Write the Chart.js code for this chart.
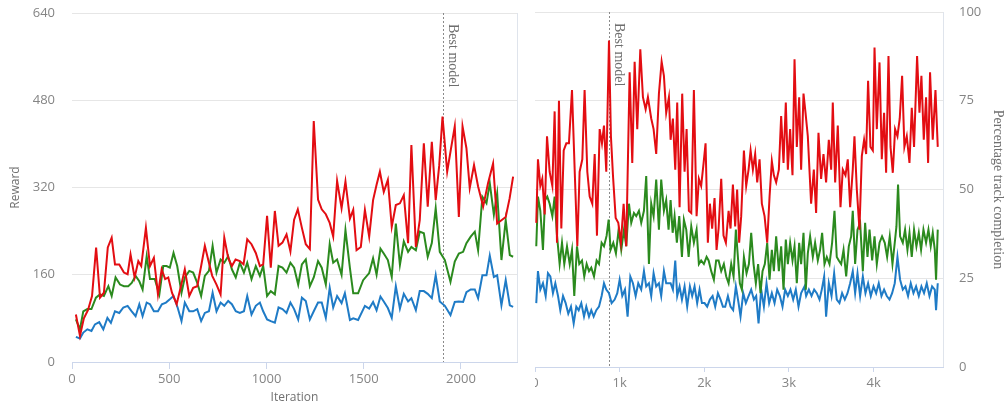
<!DOCTYPE html>
<html>
<head>
<meta charset="utf-8">
<script src="https://cdn.jsdelivr.net/npm/chart.js@4.4.1/dist/chart.umd.min.js"></script>
<style>
  html, body { margin: 0; padding: 0; background: #ffffff; width: 1007px; height: 406px; overflow: hidden; }
  #rewardWrap { position: absolute; left: 0; top: 0; width: 525px; height: 406px; }
  #trackWrap { position: absolute; left: 535px; top: 0; width: 472px; height: 406px; overflow: hidden; }
  canvas { display: block; }
</style>
</head>
<body>
<div id="rewardWrap"><canvas id="rewardChart" width="525" height="406"></canvas></div>
<div id="trackWrap"><canvas id="trackChart" width="472" height="406"></canvas></div>
<script>
// ---- Reward per iteration (left panel) ----
const rewardTicks = [0, 160, 320, 480, 640];
const iterationTicks = [0, 500, 1000, 1500, 2000];
const rewardBestIteration = 1906;

const redIter = [20, 41, 61, 82, 103, 124, 144, 164, 184, 204, 221, 243, 267, 286, 301, 322, 341, 356, 380, 401, 421, 442, 461, 479, 495, 514, 538, 560, 580, 603, 623, 644, 664, 683, 704, 721, 743, 764, 783, 803, 822, 841, 863, 882, 901, 923, 945, 966, 983, 1003, 1022, 1043, 1062, 1082, 1103, 1123, 1142, 1161, 1182, 1202, 1223, 1243, 1265, 1284, 1305, 1325, 1343, 1363, 1386, 1406, 1429, 1446, 1463, 1485, 1506, 1528, 1548, 1566, 1583, 1603, 1624, 1644, 1665, 1686, 1706, 1728, 1745, 1768, 1788, 1809, 1829, 1850, 1870, 1888, 1905, 1929, 1948, 1968, 1989, 2008, 2028, 2045, 2067, 2088, 2114, 2139, 2165, 2186, 2208, 2230, 2250, 2268];
const redReward = [87, 48, 80, 95, 121, 210, 118, 127, 210, 228, 179, 179, 164, 161, 197, 155, 185, 176, 246, 176, 191, 124, 170, 152, 155, 127, 106, 139, 170, 121, 136, 139, 176, 213, 182, 158, 142, 124, 228, 191, 176, 188, 185, 179, 225, 216, 200, 176, 179, 268, 173, 277, 213, 219, 234, 203, 261, 280, 246, 216, 207, 442, 298, 280, 271, 255, 230, 332, 282, 331, 263, 279, 205, 211, 279, 230, 297, 325, 349, 312, 334, 248, 288, 291, 306, 218, 398, 211, 260, 401, 285, 404, 297, 360, 450, 349, 390, 432, 266, 432, 392, 319, 361, 322, 285, 328, 364, 254, 260, 266, 300, 340];

const greenIter = [20, 41, 58, 79, 100, 123, 144, 164, 187, 204, 224, 247, 267, 289, 307, 327, 346, 363, 384, 401, 426, 449, 469, 486, 503, 522, 541, 563, 580, 603, 623, 644, 664, 683, 704, 723, 743, 764, 783, 803, 822, 842, 863, 884, 901, 923, 945, 966, 983, 1003, 1022, 1043, 1062, 1082, 1103, 1123, 1142, 1163, 1182, 1202, 1223, 1243, 1265, 1284, 1305, 1325, 1343, 1363, 1386, 1406, 1429, 1446, 1471, 1497, 1528, 1548, 1566, 1586, 1603, 1624, 1644, 1665, 1686, 1706, 1728, 1745, 1768, 1788, 1809, 1829, 1850, 1870, 1891, 1917, 1946, 1968, 1989, 2011, 2028, 2050, 2071, 2088, 2110, 2131, 2148, 2169, 2186, 2208, 2230, 2251, 2268];
const greenReward = [78, 60, 93, 97, 97, 118, 124, 121, 139, 121, 155, 142, 139, 139, 145, 158, 148, 133, 194, 152, 152, 124, 176, 176, 173, 200, 176, 127, 155, 167, 164, 145, 121, 158, 167, 213, 164, 188, 182, 194, 170, 155, 182, 164, 182, 152, 176, 158, 176, 121, 130, 124, 176, 173, 164, 182, 173, 142, 179, 188, 139, 155, 185, 173, 142, 216, 182, 188, 160, 242, 172, 126, 126, 150, 163, 190, 160, 208, 199, 187, 156, 254, 178, 221, 202, 211, 205, 239, 236, 193, 218, 282, 202, 187, 147, 184, 199, 202, 218, 230, 239, 205, 303, 291, 328, 270, 309, 187, 260, 196, 193];

const blueIter = [20, 41, 58, 79, 100, 118, 140, 161, 182, 200, 221, 243, 264, 286, 307, 327, 346, 363, 384, 401, 421, 442, 462, 483, 503, 522, 543, 563, 580, 603, 623, 644, 664, 683, 704, 723, 743, 764, 783, 803, 822, 842, 863, 884, 901, 923, 945, 966, 983, 1003, 1022, 1043, 1062, 1082, 1103, 1123, 1142, 1163, 1182, 1202, 1223, 1243, 1265, 1284, 1305, 1325, 1343, 1363, 1386, 1403, 1429, 1446, 1471, 1506, 1528, 1548, 1566, 1586, 1603, 1624, 1644, 1665, 1686, 1706, 1728, 1745, 1768, 1788, 1809, 1829, 1850, 1870, 1891, 1917, 1946, 1968, 1989, 2011, 2028, 2050, 2071, 2088, 2110, 2131, 2148, 2169, 2186, 2208, 2230, 2251, 2268];
const blueReward = [46, 43, 54, 60, 57, 69, 73, 60, 81, 72, 93, 90, 100, 103, 93, 84, 106, 84, 109, 106, 93, 93, 106, 109, 115, 121, 100, 75, 109, 93, 93, 97, 75, 90, 93, 127, 93, 109, 103, 112, 106, 93, 90, 93, 121, 87, 103, 109, 93, 78, 75, 72, 100, 97, 90, 109, 97, 78, 118, 112, 78, 93, 109, 109, 81, 136, 100, 121, 108, 126, 77, 80, 77, 103, 98, 110, 95, 120, 111, 99, 81, 139, 98, 125, 111, 117, 95, 130, 130, 125, 117, 159, 111, 103, 86, 110, 111, 110, 128, 133, 133, 117, 159, 159, 195, 156, 159, 104, 150, 104, 101];

// ---- Percentage track completion (right panel) ----
const completionTicks = [0, 25, 50, 75, 100];
const stepTicks = [0, 1000, 2000, 3000, 4000];
const completionBestStep = 877;

const redStep = [15, 35, 63, 86, 114, 142, 173, 205, 232, 260, 283, 311, 339, 370, 401, 437, 468, 500, 527, 559, 586, 618, 646, 677, 705, 732, 764, 791, 815, 842, 874, 897, 921, 953, 984, 1015, 1047, 1078, 1118, 1149, 1177, 1208, 1244, 1275, 1307, 1334, 1373, 1401, 1432, 1464, 1496, 1523, 1550, 1582, 1602, 1629, 1657, 1680, 1708, 1739, 1767, 1791, 1818, 1846, 1877, 1909, 1936, 1963, 1992, 2015, 2042, 2066, 2093, 2121, 2145, 2169, 2200, 2227, 2255, 2287, 2310, 2338, 2365, 2388, 2412, 2436, 2468, 2495, 2523, 2547, 2574, 2601, 2625, 2653, 2680, 2712, 2743, 2771, 2798, 2822, 2849, 2881, 2908, 2936, 2963, 2987, 3014, 3042, 3066, 3093, 3121, 3144, 3172, 3196, 3223, 3262, 3294, 3321, 3349, 3380, 3408, 3439, 3471, 3499, 3518, 3546, 3577, 3609, 3636, 3668, 3695, 3723, 3754, 3774, 3802, 3833, 3861, 3888, 3912, 3935, 3963, 3991, 4011, 4038, 4070, 4097, 4124, 4148, 4176, 4200, 4227, 4254, 4282, 4309, 4337, 4364, 4392, 4424, 4451, 4478, 4514, 4542, 4565, 4593, 4620, 4644, 4667, 4699, 4731, 4758];
const redCompletion = [40.6, 58.5, 51, 53, 43, 65, 55, 51, 72, 35, 75, 39, 61, 63, 63, 78, 56, 34, 55, 58.5, 78, 55, 48, 46, 60, 37, 67, 63, 68, 55, 92, 65, 54, 42, 40.6, 35, 46, 34, 83, 57.5, 86, 67, 89.5, 76, 72.6, 76, 70, 67, 60, 77, 86, 82, 71.6, 76, 64, 70, 55.6, 74.5, 45, 77, 55, 67, 44, 43.4, 78, 42.5, 53, 51, 57.5, 63, 35, 46, 39, 47.6, 33, 39, 53, 37, 35, 44, 39, 51.4, 39.6, 50, 35, 42.5, 61, 51, 55.6, 61, 55.6, 60, 52, 58.5, 46, 42.5, 35, 48, 58, 54, 52, 55.6, 70.7, 57.5, 74.5, 55.6, 67, 54, 86.7, 62, 76, 55.6, 77, 71.6, 65, 46, 55.6, 43.4, 66, 53, 60, 52, 64, 55.6, 74.5, 52, 68, 45, 55.6, 54, 58.5, 45, 55.6, 65, 50, 38.7, 59.4, 64, 60, 80.6, 62, 61, 90, 67, 85.8, 58.5, 71.6, 54.7, 87.6, 62, 54.7, 67, 65, 70, 82, 62, 65, 57.5, 73, 62, 87.6, 71.6, 82, 64, 76, 57.5, 83, 64, 78, 62];

const greenStep = [15, 35, 63, 94, 118, 145, 173, 205, 232, 260, 291, 319, 346, 378, 410, 437, 464, 496, 523, 555, 582, 610, 638, 665, 697, 728, 756, 787, 815, 846, 870, 893, 925, 956, 988, 1019, 1051, 1078, 1110, 1137, 1169, 1196, 1228, 1255, 1287, 1314, 1346, 1373, 1401, 1432, 1464, 1491, 1523, 1550, 1578, 1602, 1626, 1649, 1676, 1704, 1736, 1759, 1787, 1815, 1846, 1877, 1909, 1936, 1963, 1995, 2027, 2051, 2082, 2113, 2140, 2169, 2200, 2231, 2259, 2287, 2318, 2346, 2373, 2397, 2420, 2444, 2468, 2499, 2527, 2554, 2582, 2609, 2636, 2664, 2688, 2715, 2743, 2771, 2798, 2822, 2849, 2881, 2908, 2936, 2963, 2987, 3014, 3042, 3066, 3093, 3121, 3144, 3172, 3199, 3223, 3250, 3282, 3309, 3341, 3368, 3392, 3420, 3447, 3479, 3510, 3538, 3565, 3589, 3617, 3645, 3676, 3707, 3735, 3754, 3782, 3810, 3841, 3873, 3900, 3928, 3952, 3983, 4011, 4038, 4070, 4100, 4132, 4160, 4191, 4223, 4250, 4270, 4289, 4313, 4345, 4372, 4400, 4424, 4451, 4478, 4506, 4534, 4561, 4589, 4620, 4648, 4675, 4699, 4723, 4738, 4758];
const greenCompletion = [34, 48, 44, 33, 47, 48, 46, 42.5, 48, 37, 29, 35, 29, 34, 29, 33, 20, 34, 29, 30, 25.5, 29, 27, 28, 25.5, 30, 29, 35, 34, 37, 41.5, 33, 35, 32, 38.7, 33, 38.7, 34, 46, 40.6, 43.4, 42.5, 44, 40.6, 44, 53.8, 29, 46, 42.5, 52.8, 38.7, 52.8, 44, 47, 38.7, 47, 37.8, 42.5, 35, 42.5, 31, 41.5, 38.7, 31, 39.6, 35, 38.7, 29, 30, 29, 31, 30, 27, 24.6, 30, 30, 27, 29, 25.5, 23.6, 29, 25.5, 38.7, 31, 23.6, 21.8, 31, 26.4, 29, 37.8, 29, 23.6, 29, 20.8, 27, 29, 35, 24.6, 33, 27, 36.8, 27, 34, 21.8, 35.9, 29, 35, 30, 34, 23.6, 35, 29, 37.8, 21.8, 32, 36.8, 31, 35, 30, 33, 37.8, 29, 31, 29, 35, 44, 31, 30, 29, 33, 25.5, 34, 36.8, 44, 29, 38.7, 40.6, 27, 40.6, 31, 38.7, 30, 36.8, 29, 35, 36.8, 35, 31, 36.8, 29, 35, 39.6, 51.4, 36.8, 35, 38.7, 33, 37.8, 31, 38.7, 34, 37.8, 33, 38.7, 35, 38.7, 34, 37.8, 33, 24.6, 38.7];

const blueStep = [15, 35, 63, 94, 126, 153, 181, 212, 240, 272, 299, 331, 362, 393, 425, 457, 488, 516, 547, 579, 606, 638, 665, 693, 724, 756, 787, 815, 842, 874, 905, 941, 972, 1000, 1031, 1063, 1094, 1126, 1157, 1189, 1220, 1255, 1287, 1314, 1346, 1373, 1401, 1432, 1464, 1491, 1523, 1550, 1602, 1629, 1657, 1680, 1708, 1736, 1767, 1798, 1830, 1857, 1885, 1916, 1944, 1972, 2003, 2034, 2066, 2098, 2129, 2161, 2192, 2220, 2247, 2279, 2310, 2341, 2373, 2405, 2428, 2460, 2491, 2523, 2554, 2586, 2613, 2641, 2672, 2704, 2735, 2766, 2798, 2830, 2861, 2893, 2924, 2955, 2987, 3018, 3050, 3081, 3113, 3144, 3184, 3203, 3235, 3267, 3298, 3329, 3361, 3388, 3416, 3439, 3471, 3503, 3534, 3565, 3597, 3628, 3660, 3692, 3723, 3754, 3782, 3810, 3841, 3873, 3904, 3935, 3967, 3999, 4030, 4061, 4093, 4124, 4156, 4188, 4219, 4250, 4282, 4313, 4345, 4376, 4407, 4439, 4471, 4502, 4534, 4565, 4596, 4628, 4660, 4691, 4723, 4738, 4758];
const blueCompletion = [18, 27, 21.8, 23.6, 20, 26.4, 25.5, 20.8, 23.6, 20, 16, 20, 18, 15, 17, 12.3, 17, 16, 18, 14.2, 17, 14.2, 16, 14.2, 16, 17, 20, 23.6, 21.8, 20.8, 18, 19, 20.8, 24.6, 20, 21.8, 14.2, 25.5, 23.6, 20, 23.6, 21.8, 27, 22.7, 23.6, 20, 26.4, 22.7, 23.6, 20, 27, 23.6, 23.6, 21.8, 30, 20, 22.7, 19, 22.7, 17, 22.7, 20, 22.7, 18, 21.8, 18, 18, 17, 19, 20, 17, 20.8, 19, 17, 17, 20, 17, 16, 22.7, 18, 14.2, 20.8, 18, 20, 21.8, 19, 20, 12.3, 21.8, 17, 23.6, 18, 20.8, 18, 21.8, 20, 17, 21.8, 20, 21.8, 19, 21.8, 17, 20.8, 22.7, 20, 21.8, 20, 21.8, 20.8, 19, 21.8, 25.5, 14.2, 23.6, 20, 26.4, 19, 18, 20.8, 19, 20.8, 23.6, 27, 20.8, 26.4, 20, 25.5, 20.8, 23.6, 20, 22.7, 20.8, 23.6, 20, 21.8, 20, 19, 20.8, 23.6, 31, 24.6, 21.8, 22.7, 20, 23.6, 20.8, 22.7, 20, 22.7, 20.8, 23.6, 20, 22.7, 21.8, 16, 23.6];

// ---- shared styling ----
const RED = '#e30d12';
const GREEN = '#2b8a1e';
const BLUE = '#1f7bc6';
const TICK_COLOR = '#858585';
const TITLE_COLOR = '#707070';
const GRID_COLOR = '#e6e6e6';
const AXIS_COLOR = '#ccd6eb';
const SANS = "'Open Sans', 'DejaVu Sans', sans-serif";
const SERIF = "'Liberation Serif', 'DejaVu Serif', serif";

function toPoints(xs, ys) {
  return xs.map((x, i) => ({ x: x, y: ys[i] }));
}

function lineSet(label, xs, ys, color) {
  return {
    label: label,
    data: toPoints(xs, ys),
    borderColor: color,
    backgroundColor: color,
    borderWidth: 2,
    pointRadius: 0,
    tension: 0,
    fill: false
  };
}

// Draws the dotted "Best model" marker and the light frame edge on the plot's right side.
const markerPlugin = {
  id: 'bestModelMarker',
  beforeDatasetsDraw(chart, args, opts) {
    const { ctx, chartArea } = chart;
    const xScale = chart.scales.x;
    ctx.save();
    // right frame edge
    ctx.strokeStyle = '#dfe4ec';
    ctx.lineWidth = 1;
    ctx.beginPath();
    ctx.moveTo(Math.round(chartArea.right) + 0.5, chartArea.top);
    ctx.lineTo(Math.round(chartArea.right) + 0.5, chartArea.bottom);
    ctx.stroke();
    // best model line
    const px = Math.round(xScale.getPixelForValue(opts.value)) + 0.5;
    ctx.strokeStyle = '#8a8a8a';
    ctx.setLineDash([2, 2]);
    ctx.beginPath();
    ctx.moveTo(px, chartArea.top);
    ctx.lineTo(px, chartArea.bottom);
    ctx.stroke();
    ctx.setLineDash([]);
    // label
    ctx.translate(px, chartArea.top);
    ctx.rotate(Math.PI / 2);
    ctx.fillStyle = '#6e6e6e';
    ctx.font = '14px ' + SERIF;
    ctx.textAlign = 'left';
    ctx.textBaseline = 'alphabetic';
    ctx.fillText(opts.text, 11, -5);
    ctx.restore();
  }
};

Chart.register(markerPlugin);

// Left panel: reward against iteration
new Chart(document.getElementById('rewardChart'), {
  type: 'line',
  data: {
    datasets: [
      lineSet('Red', redIter, redReward, RED),
      lineSet('Green', greenIter, greenReward, GREEN),
      lineSet('Blue', blueIter, blueReward, BLUE)
    ]
  },
  options: {
    responsive: false,
    animation: false,
    events: [],
    layout: { padding: { left: 0, right: 8, top: 13, bottom: 0 } },
    plugins: {
      legend: { display: false },
      tooltip: { enabled: false },
      bestModelMarker: { value: rewardBestIteration, text: 'Best model' }
    },
    scales: {
      x: {
        type: 'linear',
        min: 0,
        max: 2288,
        afterFit(scale) { scale.height = 44; scale.paddingLeft = 0; scale.paddingRight = 0; },
        afterBuildTicks(scale) { scale.ticks = iterationTicks.map(v => ({ value: v })); },
        ticks: {
          color: TICK_COLOR, font: { family: SANS, size: 13 }, padding: 2, maxRotation: 0,
          callback: (v) => String(v)
        },
        grid: { display: true, drawOnChartArea: false, drawTicks: true, tickLength: 7, color: AXIS_COLOR },
        border: { display: true, color: AXIS_COLOR, width: 1 },
        title: { display: true, text: 'Iteration', color: TITLE_COLOR, font: { family: SANS, size: 12 }, padding: { top: 0, bottom: 1 } }
      },
      y: {
        type: 'linear',
        position: 'left',
        min: 0,
        max: 640,
        afterFit(scale) { scale.width = 72; scale.paddingTop = 0; scale.paddingBottom = 0; },
        afterBuildTicks(scale) { scale.ticks = rewardTicks.map(v => ({ value: v })); },
        ticks: { color: TICK_COLOR, font: { family: SANS, size: 13 }, padding: 17 },
        grid: { color: GRID_COLOR, drawTicks: false },
        border: { display: false },
        title: { display: true, text: 'Reward', color: TITLE_COLOR, font: { family: SANS, size: 12 }, padding: { top: 8, bottom: 0 } }
      }
    }
  }
});

// Right panel: percentage of the track completed against step
new Chart(document.getElementById('trackChart'), {
  type: 'line',
  data: {
    datasets: [
      lineSet('Red', redStep, redCompletion, RED),
      lineSet('Green', greenStep, greenCompletion, GREEN),
      lineSet('Blue', blueStep, blueCompletion, BLUE)
    ]
  },
  options: {
    responsive: false,
    animation: false,
    events: [],
    layout: { padding: { left: 0, right: 0, top: 12, bottom: 0 } },
    plugins: {
      legend: { display: false },
      tooltip: { enabled: false },
      bestModelMarker: { value: completionBestStep, text: 'Best model' }
    },
    scales: {
      x: {
        type: 'linear',
        min: 0,
        max: 4820,
        afterFit(scale) { scale.height = 39; scale.paddingLeft = 0; scale.paddingRight = 0; },
        afterBuildTicks(scale) { scale.ticks = stepTicks.map(v => ({ value: v })); },
        ticks: {
          color: TICK_COLOR, font: { family: SANS, size: 13 }, padding: 3, maxRotation: 0,
          callback: (v) => v === 0 ? '0' : (v / 1000) + 'k'
        },
        grid: { display: true, drawOnChartArea: false, drawTicks: true, tickLength: 5, color: AXIS_COLOR },
        border: { display: true, color: AXIS_COLOR, width: 1 }
      },
      y: {
        type: 'linear',
        position: 'right',
        min: 0,
        max: 100,
        afterFit(scale) { scale.width = 64; scale.paddingTop = 0; scale.paddingBottom = 0; },
        afterBuildTicks(scale) { scale.ticks = completionTicks.map(v => ({ value: v })); },
        ticks: { color: TICK_COLOR, font: { family: SANS, size: 13 }, padding: 16 },
        grid: { color: GRID_COLOR, drawTicks: false },
        border: { display: false },
        title: { display: true, text: 'Percentage track completion', color: TITLE_COLOR, font: { family: SERIF, size: 14 }, padding: { top: 1, bottom: 0 } }
      }
    }
  }
});
</script>
</body>
</html>
